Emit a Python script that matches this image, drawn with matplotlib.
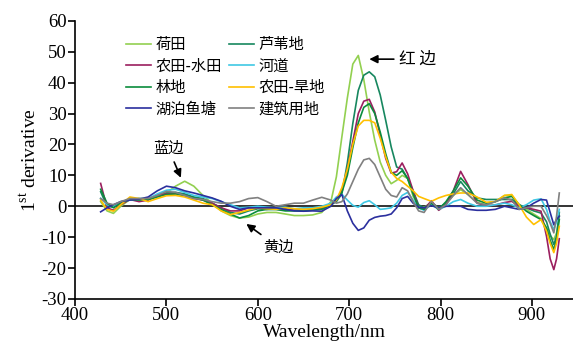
import matplotlib
matplotlib.use("Agg")
import matplotlib.pyplot as plt

# wavelength grid (nm) shared by all curves
wavelength = [428, 435, 442, 450, 460, 470, 480, 490, 500, 510, 520, 530, 540, 550, 560,
              570, 580, 590, 600, 610, 620, 630, 640, 650, 660, 670, 680, 686, 692, 698,
              704, 710, 716, 722, 728, 734, 740, 746, 752, 758, 764, 770, 776, 782, 790,
              798, 806, 814, 822, 830, 840, 850, 860, 870, 878, 886, 894, 902, 910, 916,
              920, 924, 927, 930]

heti = [1.5, -1.5, -2.3, 0, 2.2, 2.5, 2.2, 3, 4.3, 6.5, 8.1, 6.5, 3.5, 1, -1.5,
        -3, -3.8, -3.5, -2.5, -2, -2, -2.5, -3, -3, -2.8, -2, 1.5, 9.5, 22.4, 35,
        46, 48.8, 41, 30.5, 21.4, 14.3, 10, 7.3, 8.4, 10, 9, 3.2, 0, -0.3, 1,
        -0.9, 1, 3.5, 5.4, 3.8, 1.3, 0.5, 1.5, 3.5, 3.5, 0.5, -1, -2.5, -4, -7,
        -9.5, -10.8, -8.6, -3.2]
luweidi = [4.7, 0, -0.3, 1.2, 2.5, 2.3, 2.5, 3.5, 4.3, 4.5, 4, 3, 2.5, 1, -0.5,
           -2, -2.5, -1.5, -0.8, -1, -1, -1.2, -1, -1.2, -1, -0.8, 0.5, 1.5, 4, 14,
           26.8, 37.5, 42.4, 43.5, 41.9, 36, 27.8, 19.2, 12.7, 12, 9, 5, 0.5, -0.5, 1.3,
           -0.5, 1, 4, 8, 5, 2.7, 2.2, 2.2, 2.2, 2.2, 0.5, -0.5, -1.5, -2.2, -5,
           -9, -12.4, -9.7, -2]
shuitian = [7.4, -0.5, -1.3, 0.5, 2.2, 1.5, 2, 3.5, 4, 4, 3.5, 2.5, 2, 1, -0.5,
            -1.5, -1.5, -0.5, -0.5, -1, -0.5, -0.8, -1, -1, -0.8, -0.5, 0.5, 2, 5, 12,
            21, 30, 34, 34.6, 30.5, 23, 15.5, 10.7, 11.2, 14, 10.5, 5, -0.5, -1, 1.8,
            -1.3, 0.5, 5, 11.3, 7, 1, 0.2, 0.4, 1.2, 1.6, 0, -0.5, -1, -1.6, -9.7,
            -17, -20.5, -17, -10.5]
hedao = [2.6, 0.5, 0, 1.5, 2, 2.5, 2.5, 4, 5.2, 5.5, 4.5, 3.5, 3, 2.5, 1.5,
         0.5, -0.5, -0.3, 0, -0.3, -0.5, -0.3, -0.8, -0.5, -0.5, 0, 1, 3, 3.9, 2,
         0.3, -0.3, 1.2, 1.8, 0.5, -1, -0.8, -0.5, 1, 3.5, 4.5, 2, -0.5, -1.3, 0.5,
         -1, 0, 1.5, 2.2, 1, 0, 0, 0.5, 1, 0.5, -0.5, 0.5, 2, 2.4, -1,
         -5, -7.5, -5, -1]
lindi = [5.5, 1, -0.5, 1, 2.2, 2, 2.2, 3, 3.8, 4, 3.5, 2.8, 2, 0.5, -1,
         -2.5, -3.8, -3, -1.5, -1, -1, -1.5, -1.5, -1.5, -1.2, -1, 0.5, 2, 4.5, 10,
         19, 27, 32, 33.2, 30, 24, 17, 11, 10, 11.5, 9, 4, -0.5, -1, 1,
         -1, 1.5, 5, 9.2, 6.5, 2, 1, 1.5, 2.7, 3.2, 0.5, -1.6, -3, -4.3, -7,
         -11, -14, -10.8, -4.3]
handi = [2, -1, -1.6, 0.5, 3, 2.5, 1.5, 2.5, 3.4, 3.5, 3, 2, 1, 0.5, -1.5,
         -2.7, -2, -1.2, -0.5, -0.8, -1, -0.5, -0.8, -1, -0.8, -0.3, 0.5, 2, 6, 12,
         20, 26, 27.8, 27.8, 27, 22, 16, 11, 9, 8, 6.5, 5, 3.2, 2.5, 1.6,
         2.7, 3.5, 4, 4.3, 4.3, 3, 1.3, 1.5, 3.5, 3.8, 0.5, -3.5, -5.9, -4.3, -8,
         -12, -15, -11.9, -6.5]
hupo = [-1.8, -0.5, 0.5, 1.5, 2, 2.3, 3, 5, 6.5, 6, 5, 4.3, 3.5, 2.7, 1.6,
        0, -1, -0.5, -0.5, -0.5, -0.5, -1, -1.5, -1.6, -1.5, -1.6, 0, 2.5, 3.8, -1.5,
        -5.5, -7.8, -7, -4.5, -3.6, -3.2, -3, -2.5, -0.5, 2.5, 3.2, 1, -0.3, -0.5, 0.2,
        -0.5, 0, 0, 0, -1, -1.3, -1.3, -1, 0, -0.5, -1, -0.5, 1, 2.2, 2,
        -2, -6, -4.3, -3.2]
jianzhu = [2.5, 1, 0.5, 1.5, 2.5, 2.5, 2.5, 3.5, 4.8, 4.5, 3.5, 2.5, 2.2, 1.5, 1,
           1, 1.5, 2.5, 2.8, 1.5, 0, 0.5, 1, 1, 2, 2.9, 2, 1, 1.5, 4,
           8, 12, 15, 15.5, 13.5, 9.5, 5.5, 3.5, 3, 6, 5, 1.5, -1.5, -2, 1.6,
           -1, 0.5, 3.5, 6, 3.8, 1, 0.5, 1.5, 2.7, 2, -1, -0.5, 0, 0, -3,
           -5.5, -8.6, -3.2, 4.3]

labels = ["荷田", "芦苇地", "农田-水田", "河道", "林地", "农田-旱地", "湖泊鱼塘", "建筑用地"]
colors = ["#92d050", "#17875f", "#9b1f5f", "#3fc8e4", "#0b8c3c", "#ffc000", "#2b2f9e", "#808080"]
series = [heti, luweidi, shuitian, hedao, lindi, handi, hupo, jianzhu]

plt.rcParams["font.family"] = ["Liberation Serif", "Noto Sans CJK SC"]
plt.rcParams["mathtext.fontset"] = "custom"
plt.rcParams["mathtext.rm"] = "Liberation Serif"
plt.rcParams["axes.unicode_minus"] = False

fig = plt.figure(figsize=(5.73, 3.53), dpi=100)
ax = fig.add_axes([0.131, 0.153, 0.869, 0.788])

ax.axhline(0, color="#333333", lw=1.4, zorder=1)
lines = []
for vals, lab, col in zip(series, labels, colors):
    ln, = ax.plot(wavelength, vals, color=col, lw=1.2, label=lab, zorder=2)
    lines.append(ln)

ax.set_xlim(400, 945)
ax.set_ylim(-30, 60)
ax.set_xticks([400, 500, 600, 700, 800, 900])
ax.set_yticks(range(-30, 61, 10))
ax.spines["top"].set_visible(False)
ax.spines["right"].set_visible(False)
for s in ("left", "bottom"):
    ax.spines[s].set_linewidth(1.2)
ax.tick_params(direction="out", length=5, width=1.2, labelsize=13.5, pad=1)

ax.set_xlabel("Wavelength/nm", fontsize=14, labelpad=0)
ax.set_ylabel(r"1$^{\mathrm{st}}$ derivative", fontsize=14, labelpad=2)

# legend is filled row by row in the reference (two columns)
order = [0, 2, 4, 6, 1, 3, 5, 7]
cjk = ["Noto Sans CJK SC", "DejaVu Sans"]
ax.legend([lines[i] for i in order], [labels[i] for i in order], ncol=2,
          loc="upper left", bbox_to_anchor=(0.075, 0.995), frameon=False,
          prop={"family": cjk, "size": 11}, handlelength=1.6, handletextpad=0.3,
          columnspacing=0.5, labelspacing=0.3)

arrow = dict(arrowstyle="-|>", color="black", lw=1.2, mutation_scale=12)
ax.annotate("红 边", xy=(719, 47.6), xytext=(755, 47.6), fontsize=12, family=cjk,
            ha="left", va="center", arrowprops=arrow)
ax.annotate("蓝边", xy=(517, 8.4), xytext=(502, 18.8), fontsize=11, family=cjk,
            ha="center", va="center", arrowprops=arrow)
ax.annotate("黄边", xy=(585, -5.2), xytext=(623, -13.3), fontsize=11, family=cjk,
            ha="center", va="center", arrowprops=arrow)

fig.savefig("out.png", dpi=100)
